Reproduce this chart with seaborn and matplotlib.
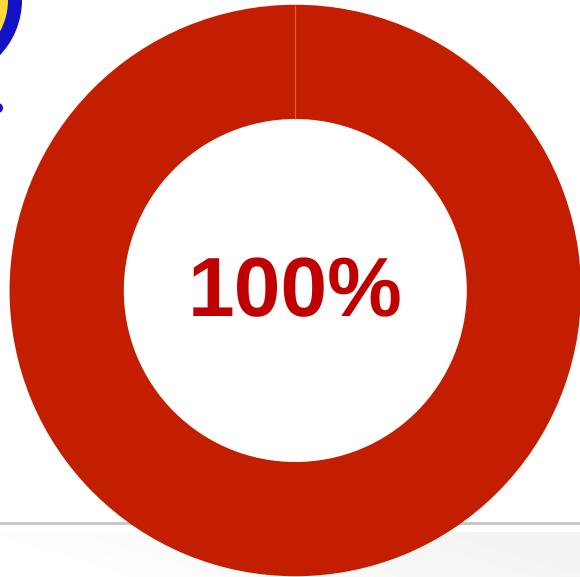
import numpy as np
import matplotlib
matplotlib.use("Agg")
import matplotlib.pyplot as plt
from matplotlib.patches import Circle
import seaborn as sns

sns.set_theme(style="white")
plt.rcParams['font.family'] = ['Liberation Sans', 'DejaVu Sans']
plt.rcParams['text.hinting'] = 'no_hinting'
plt.rcParams['text.hinting_factor'] = 1

share_values = [100]
centre_label = "100%"
ring_colors = ["#C41E00"]
W, H = 580, 577

fig = plt.figure(figsize=(W / 100, H / 100), dpi=100, facecolor="white")

# page background seen behind the chart
bg = fig.add_axes([0, 0, 1, 1], zorder=0)
bg.set_xlim(0, W)
bg.set_ylim(H, 0)
bg.axis("off")
xx, yy = np.meshgrid(np.linspace(0, 1, 100), np.linspace(0, 1, 30))
shade = 1.0 - 0.05 * np.clip(xx * 1.0 - yy * 0.25 + 0.1, 0, 1)
bg.imshow(shade, extent=(0, W, 577, 532), cmap="gray", vmin=0, vmax=1,
          aspect="auto", zorder=1)
bg.set_xlim(0, W)
bg.set_ylim(H, 0)
bg.axhline(523, color="#C8C8C8", lw=2.2, zorder=2)
bg.add_patch(Circle((-58, 0), 80, fc="#1212C4", ec="none", zorder=3))
bg.add_patch(Circle((-58, 0), 66, fc="#FFD83A", ec="none", zorder=4))
bg.add_patch(Circle((-2, 108), 5, fc="#1212C4", ec="none", zorder=3))

# the ring
size = 571.5
ax = fig.add_axes([(295.3 - size / 2) / W, 1 - (290.5 + size / 2) / H, size / W, size / H], zorder=1)
ax.patch.set_alpha(0)
inner = 171.5 / 285.75
ax.pie(share_values, colors=ring_colors, startangle=90, radius=1,
       wedgeprops=dict(width=1 - inner, linewidth=0))
ax.set_xlim(-1, 1)
ax.set_ylim(-1, 1)
ax.plot([0, 0], [inner, 1], color="#DD5A44", lw=0.9, solid_capstyle="butt")
ax.text(0, -26 / 286, centre_label, color="#C00000", fontsize=60.5, fontweight="bold",
        ha="center", va="baseline")

fig.savefig("out.png", dpi=100)
